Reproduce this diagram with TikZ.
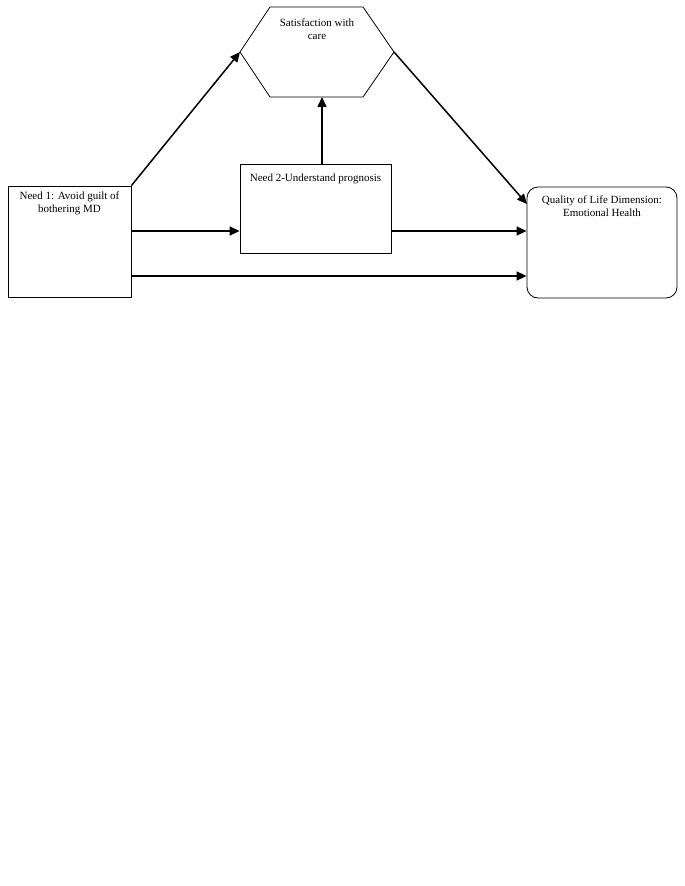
\documentclass[tikz,border=0pt]{standalone}
\usepackage{fontspec}
\setmainfont{Liberation Serif}
\usetikzlibrary{positioning,arrows.meta}
\tikzset{
  box/.style={draw, line width=0.8pt, inner sep=0pt},
  lbl/.style={font=\fontsize{11}{13}\selectfont, align=center, inner sep=0pt},
  link/.style={line width=1.5pt, -{Triangle[length=10pt,width=9pt]}}
}
\begin{document}
\begin{tikzpicture}[x=1pt, y=-1pt]
    \useasboundingbox (0,0) rectangle (685,886);

    % coordinates to be reused
    \coordinate (HL) at (240,52);
    \coordinate (HR) at (394,52);
    \coordinate (HB) at (322,97);
    \coordinate (QIn) at (527,204);
    \coordinate (midRow) at (0,231);
    \coordinate (lowRow) at (0,276);

    % draw figure
    \draw [box] (270,7) -- (363,7) -- (HR) -- (363,97) -- (270,97) -- (HL) -- cycle;
    \node [box, minimum width=123pt, minimum height=111pt] (need1) at (69.5,241.5) {};
    \node [box, minimum width=151pt, minimum height=89pt] (need2) at (315.5,208.5) {};
    \node [box, rounded corners=11pt, minimum width=150pt, minimum height=111pt] (qol) at (602,242.5) {};

    % add labels
    \node [lbl] (satT) at (317,29.5) {Satisfaction with\\care};
    \node [lbl, below=6pt of need1.north] (need1T) {Need 1: Avoid guilt of\\bothering MD};
    \node [lbl, below=10pt of need2.north] (need2T) {Need 2-Understand prognosis};
    \node [lbl, below=9pt of qol.north] (qolT) {Quality of Life Dimension:\\Emotional Health};

    % arrows
    \draw [link] (need1.north east) -- (HL);
    \draw [link] (HR) -- (QIn);
    \draw [link] (need2.north -| HB) -- (HB);
    \draw [link] (need1.east |- midRow) -- (need2.west |- midRow);
    \draw [link] (need2.east |- midRow) -- (qol.west |- midRow);
    \draw [link] (need1.east |- lowRow) -- (qol.west |- lowRow);
\end{tikzpicture}
\end{document}
